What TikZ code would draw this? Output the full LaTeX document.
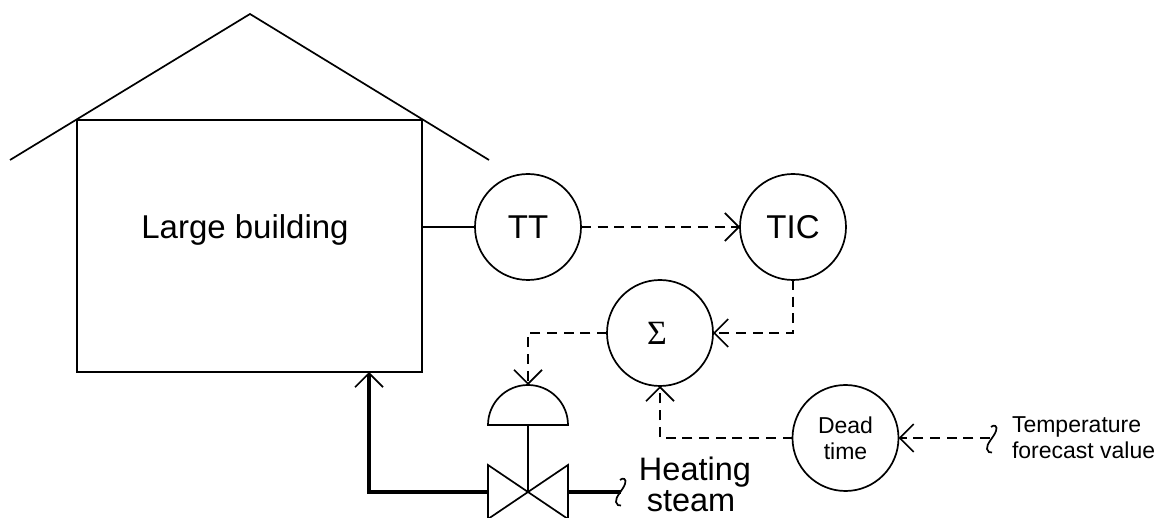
\documentclass[tikz,border=0pt]{standalone}
\usepackage{fontspec}
\setmainfont{Liberation Sans}
\newfontfamily\sigfont{Liberation Serif}
\usetikzlibrary{arrows.meta}
\tikzset{
  x=1pt,y=-1pt,
  line/.style={line width=1.7pt,line join=miter},
  inst/.style={circle,draw,line width=1.7pt,minimum size=106pt,inner sep=0pt,outer sep=0pt,align=center,font=\fontsize{33}{36}\selectfont},
  sig/.style={line width=1.7pt,dash pattern=on 10pt off 6.7pt,-{Straight Barb[length=14pt,width=28pt,line width=1.7pt]}},
  pipe/.style={line width=4.6pt,line join=miter},
  lbl/.style={inner sep=0pt,outer sep=0pt,align=center},
}
\begin{document}
\begin{tikzpicture}
\useasboundingbox (0,0) rectangle (1160,518);
% building
\node[draw,line,minimum width=345pt,minimum height=252pt,inner sep=0pt,outer sep=0pt] (bldg) at (249.5,246) {};
\node[lbl,font=\fontsize{33}{36}\selectfont] (bldgtext) at (245,230) {Large building};
\coordinate (roofL) at (10,160);
\coordinate (roofT) at (250,14);
\coordinate (roofR) at (489,160);
\draw[line] (roofL) -- (roofT) -- (roofR);
% instruments
\node[inst] (TT) at (528,227) {TT};
\node[inst] (TIC) at (793,227) {TIC};
\node[inst,font=\sigfont\fontsize{34}{38}\selectfont] (SUM) at (660,333) {\raisebox{-2pt}{Σ}\hspace{6pt}};
\node[inst,font=\fontsize{23}{26}\selectfont] (DT) at (845.5,438) {Dead\\time};
% valve
\coordinate (V) at (528,492);
\coordinate (VL) at (488,492);
\coordinate (VR) at (568,492);
\coordinate (ActB) at (528,425);
\coordinate (ActT) at (528,385);
\draw[line] (V) -- (488,465) -- (488,519) -- cycle;
\draw[line] (V) -- (568,465) -- (568,519) -- cycle;
\draw[line] (488,425) arc[start angle=180,end angle=0,x radius=40,y radius=-40] -- cycle;
\draw[line] (ActB) -- (V);
% wires
\draw[line] (bldg.east |- TT) -- (TT.west);
\draw[sig] (TT.east) -- (TIC.west);
\draw[sig] (TIC.south) |- (SUM.east);
\draw[sig] (SUM.west) -| (ActT);
\draw[sig] (DT.west) -| (SUM.south);
% pipes
\coordinate (PipeIn) at (621,492);
\coordinate (BldgIn) at (369,372);
\draw[pipe] (VL) -| (369,374);
\draw[line,-{Straight Barb[length=14pt,width=28pt,line width=1.7pt]}] (369,380) -- (BldgIn);
\draw[pipe] (VR) -- (PipeIn);
\draw[line] (620,480) .. controls (623,477) and (627,479) .. (625,484) .. controls (623,490) and (615,497) .. (616,502) .. controls (616.5,505) and (619,506) .. (621,505.5);
% forecast
\coordinate (FC) at (990,438);
\draw[sig] (FC) -- (DT.east);
\draw[line] (991,427) .. controls (994,424) and (998,426) .. (996,431) .. controls (994,437) and (986,444) .. (987,449) .. controls (987.5,452) and (990,453) .. (992,452.5);
% labels
\node[lbl,font=\fontsize{32.5}{32}\selectfont,anchor=base] (steam) at (695,481) {Heating};
\node[lbl,font=\fontsize{32.5}{32}\selectfont,anchor=base] (steam2) at (691,511.5) {steam};
\node[lbl,align=left,anchor=west,font=\fontsize{23}{26}\selectfont] (fc) at (1012,438) {Temperature\\forecast value};
\end{tikzpicture}
\end{document}
